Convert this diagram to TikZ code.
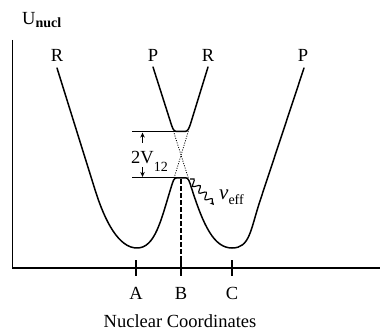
\documentclass[tikz,border=0pt]{standalone}
\usepackage{fontspec}
\setmainfont{Liberation Serif}
\usetikzlibrary{arrows.meta,decorations.pathmorphing}
\begin{document}
\begin{tikzpicture}[x=1pt,y=-1pt,
  curve/.style={line width=1.5pt, line join=round, line cap=round},
  axisline/.style={line width=1.4pt},
  level/.style={line width=1.2pt},
  gaparrow/.style={line width=1pt,-{Stealth[length=5pt,width=4.5pt]}},
  lab/.style={font=\fontsize{18.5}{18.5}\selectfont, inner sep=0pt, anchor=base}]
\useasboundingbox (0,0) rectangle (382,331);
% axes
\draw[axisline] (12.5,40) -- (12.5,268) -- (380,268);
\foreach \x in {136,181,232} \draw[axisline] (\x,260) -- (\x,276);
% lower adiabatic curve (R well + P well)
\draw[curve] (57,68) -- (95.1,190) .. controls (105.1,222) and (119,248) .. (137,248)
  .. controls (155,248) and (160.9,220.6) .. (170.9,188)
  .. controls (173.2,180.5) and (173.8,177.8) .. (177,177.8) -- (185.5,177.8)
  .. controls (188.5,177.8) and (189.2,180.8) .. (191.5,188)
  .. controls (203.5,225.7) and (214,248) .. (232,248)
  .. controls (250,248) and (250.3,230.2) .. (260.3,200) -- (304,68);
% upper adiabatic curve
\draw[curve] (153,67) -- (170.3,121.3) .. controls (172.5,128.3) and (173.5,131.5) .. (176.5,131.5)
  -- (185,131.5) .. controls (188,131.5) and (189.2,128.2) .. (191.3,121.3) -- (208,67);
% diabatic crossing (dotted)
\draw[line width=0.8pt, dash pattern=on 1pt off 1.4pt] (173.4,131) -- (188.3,178);
\draw[line width=0.8pt, dash pattern=on 1pt off 1.4pt] (174.1,178) -- (188.4,131);
% levels and gap arrows
\draw[level] (132,131.6) -- (176,131.6);
\draw[level] (132,177.8) -- (184,177.8);
\draw[gaparrow] (142.5,143) -- (142.5,132.6);
\draw[gaparrow] (142.5,167) -- (142.5,176.9);
% dashed line at B
\draw[line width=1.3pt, dash pattern=on 4.5pt off 2.5pt] (181,179) -- (181,268);
% wavy arrow
\draw[line width=1.1pt, decorate, decoration={snake, amplitude=3pt, segment length=9pt, post length=2pt}, -{Stealth[length=4pt,width=4pt]}] (190,179) -- (214,205);
% labels
\node[lab, anchor=base west] (U) at (22,25) {U\raisebox{-3pt}{\fontsize{14}{14}\selectfont\bfseries nucl}};
\node[lab] (R1) at (57,62) {R};
\node[lab] (P1) at (153,62) {P};
\node[lab] (R2) at (208,62) {R};
\node[lab] (P2) at (303,62) {P};
\node[lab, anchor=base west] (V12) at (131,164) {2V\raisebox{-7.5pt}{\fontsize{14}{14}\selectfont 12}};
\node[lab, anchor=base west] (nu) at (219,199) {{\fontsize{21}{21}\selectfont\itshape ν}\raisebox{-5pt}{\fontsize{14}{14}\selectfont eff}};
\node[lab] (A) at (136,299) {A};
\node[lab] (B) at (181,299) {B};
\node[lab] (C) at (232,299) {C};
\node[lab] (NC) at (180,327) {Nuclear Coordinates};
\end{tikzpicture}
\end{document}
